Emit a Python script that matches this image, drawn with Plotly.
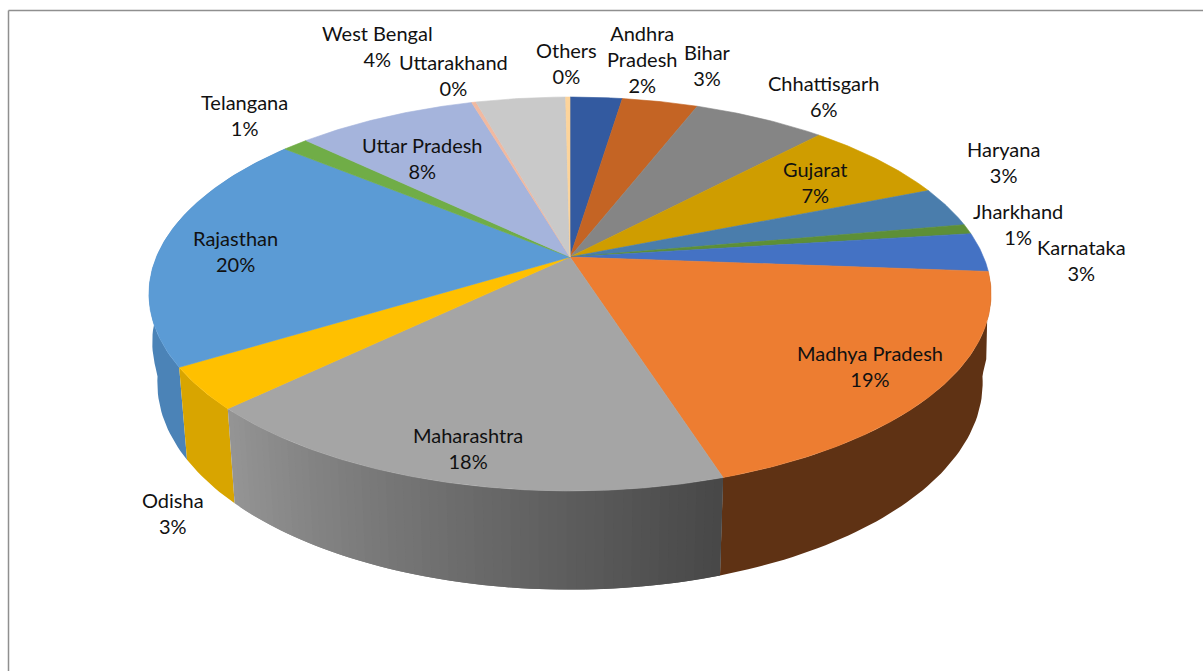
import numpy as np
import plotly.graph_objects as go

# ---- data (share of the whole, %) ----
states = ["Andhra Pradesh", "Bihar", "Chhattisgarh", "Gujarat", "Haryana", "Jharkhand",
          "Karnataka", "Madhya Pradesh", "Maharashtra", "Odisha", "Rajasthan", "Telangana",
          "Uttar Pradesh", "Uttarakhand", "West Bengal", "Others"]
shares = [2.40, 3.49, 6.11, 6.90, 3.30, 0.80, 3.20, 18.90, 17.70, 3.45, 19.75, 1.20, 8.30, 0.20, 4.13, 0.20]
label_lines = [["Andhra", "Pradesh"], ["Bihar"], ["Chhattisgarh"], ["Gujarat"], ["Haryana"], ["Jharkhand"],
               ["Karnataka"], ["Madhya Pradesh"], ["Maharashtra"], ["Odisha"], ["Rajasthan"], ["Telangana"],
               ["Uttar Pradesh"], ["Uttarakhand"], ["West Bengal"], ["Others"]]

# ---- styles ----
top_colors = ["#335aa0", "#c46424", "#858585", "#cf9d00", "#4a7dac", "#5d8f37", "#4472c4", "#ed7d31",
              "#a5a5a5", "#ffc000", "#5b9bd5", "#70ad47", "#a5b4dc", "#f1b9a0", "#c9c9c9", "#fdd49b"]
wall_colors = {"Madhya Pradesh": ("#5f3214", "#5f3214"), "Maharashtra": ("#959595", "#474747"),
               "Odisha": ("#d8a500", "#d8a500"), "Rajasthan": ("#4b83b7", "#4b83b7")}
wall_order = ["Madhya Pradesh", "Rajasthan", "Odisha", "Maharashtra"]
label_xy = {"Andhra Pradesh": (642, 59), "Bihar": (707, 65), "Chhattisgarh": (823, 96), "Gujarat": (815, 182),
            "Haryana": (1003, 162), "Jharkhand": (1018, 224), "Karnataka": (1081, 260), "Madhya Pradesh": (870, 366),
            "Maharashtra": (468, 448), "Odisha": (173, 513), "Rajasthan": (235, 251), "Telangana": (244, 115),
            "Uttar Pradesh": (422, 158), "Uttarakhand": (453, 75), "West Bengal": (377, 46), "Others": (566, 63)}

W, H = 1203, 671
CX, CY = 570.0, 257.0       # pie centre
BX, AY, K = 413.6, 190.0, 0.1878   # perspective of the top disc
DY, SY = 87.0, 1.05                # lower rim relative to the upper rim


def top_xy(frac):
    a = 2 * np.pi * np.asarray(frac)
    u, v = np.sin(a), -np.cos(a)
    d = 1 - K * v
    return CX + BX * u / d, CY + AY * v / d


def low_xy(frac):
    x, y = top_xy(frac)
    v = -np.cos(2 * np.pi * np.asarray(frac))
    sx = np.clip(0.98 + 0.2 * (0.15 - v), 0.98, 1.04)   # the rim's shoulders run out to the disc's edge
    return CX + sx * (x - CX), CY + DY + SY * (y - CY)


def mix(c1, c2, t):
    a = [int(c1[i:i + 2], 16) for i in (1, 3, 5)]
    b = [int(c2[i:i + 2], 16) for i in (1, 3, 5)]
    return "#" + "".join(f"{round(p + (q - p) * t):02x}" for p, q in zip(a, b))


total = sum(shares)
edges = np.concatenate([[0], np.cumsum(shares)]) / total
fig = go.Figure()


def poly(xs, ys, color, name, width=0.6):
    fig.add_trace(go.Scatter(x=xs, y=ys, mode="lines", fill="toself", fillcolor=color,
                             line=dict(color=color, width=width), name=name, text=name,
                             hoverinfo="text", showlegend=False))


# side walls: a strip reaches over its neighbour, and the neighbour paints over it
for name in wall_order:
    i = states.index(name)
    c1, c2 = wall_colors[name]
    strips = 1 if c1 == c2 else 60
    cuts = np.linspace(edges[i], edges[i + 1], strips + 1)
    for j in range(strips - 1, -1, -1):
        lo, hi = cuts[j], cuts[j + 1]
        if strips > 1:
            lo = max(edges[i], lo - (cuts[1] - cuts[0]))
        f = np.linspace(lo, hi, max(2, int(300 * (hi - lo)) + 2))
        xt, yt = top_xy(f)
        xb, yb = low_xy(f)
        t = 1 - (j + 0.5) / strips      # dark at the right-hand end, where the slice starts
        poly(np.concatenate([xt, xb[::-1]]), np.concatenate([yt, yb[::-1]]), mix(c1, c2, t), name, width=0)

# top faces
for i, name in enumerate(states):
    f = np.linspace(edges[i], edges[i + 1], max(3, int(720 * shares[i] / total) + 2))
    x, y = top_xy(f)
    poly(np.concatenate([[CX], x, [CX]]), np.concatenate([[CY], y, [CY]]), top_colors[i], name)

# labels
for i, name in enumerate(states):
    text = "<br>".join(label_lines[i] + [f"{round(shares[i])}%"])
    lx, ly = label_xy[name]
    fig.add_annotation(x=lx, y=ly, text=text, showarrow=False, xanchor="center", yanchor="middle",
                       font=dict(family="Lato", size=20, color="#111111"), align="center")

fig.update_layout(
    width=W, height=H, margin=dict(l=0, r=0, t=0, b=0), paper_bgcolor="white", plot_bgcolor="white",
    xaxis=dict(range=[0, W], visible=False, fixedrange=True),
    yaxis=dict(range=[H, 0], visible=False, fixedrange=True),
    shapes=[dict(type="line", x0=8.5, x1=8.5, y0=10.5, y1=H, line=dict(color="#8f8f8f", width=1.5)),
            dict(type="line", x0=8.5, x1=W, y0=10.5, y1=10.5, line=dict(color="#8f8f8f", width=1.5))],
)
fig.write_html("out.html", config={"displayModeBar": False},
               post_script="document.body.style.margin='0';document.documentElement.style.overflow='hidden';")
